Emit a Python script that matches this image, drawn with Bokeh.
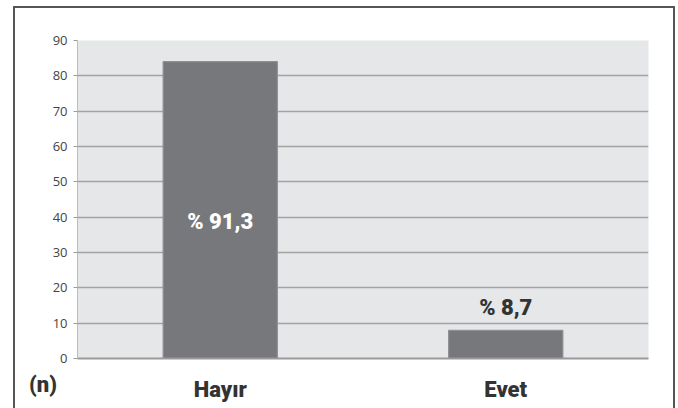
from bokeh.plotting import figure
from bokeh.models import Range1d, FactorRange, ColumnDataSource, FixedTicker, Div
from bokeh.layouts import column
from bokeh.core.properties import value
from bokeh.embed import file_html
from bokeh.resources import INLINE

categories = ["Hayır", "Evet"]
counts = [84, 8]
pct_labels = ["% 91,3", "% 8,7"]
y_ticks = [0, 10, 20, 30, 40, 50, 60, 70, 80, 90]
unit_label = "(n)"

label_y = [counts[0] * 0.46, counts[1] + 6.5]
label_color = ["#ffffff", "#333333"]

COND = "Roboto Black, Roboto, sans-serif"

src = ColumnDataSource(dict(cat=categories, n=counts, lab=pct_labels, ly=label_y, lc=label_color))

p = figure(width=658, height=400, output_backend="svg", toolbar_location=None,
           x_range=FactorRange(*categories, range_padding=0), y_range=Range1d(0, 90),
           min_border_left=62, min_border_top=32, min_border_right=25, min_border_bottom=50)
p.styles = {"margin-left": "15px", "margin-top": "8px", "outline": "2px solid #555555"}
p.background_fill_color = "#e6e7e8"
p.border_fill_color = "#ffffff"
p.outline_line_color = None

p.vbar(x="cat", top="n", width=0.4, source=src, fill_color="#77787b",
       line_color="#8e8f92", line_width=1.2)

p.text(x="cat", y="ly", text="lab", source=src, text_color="lc",
       text_font=value(COND), text_font_style="bold",
       text_font_size="22px", text_align="center", text_baseline="middle")

p.xgrid.grid_line_color = None
p.ygrid.grid_line_color = "#a3a3a3"
p.ygrid.grid_line_width = 1.3
p.ygrid.ticker = FixedTicker(ticks=y_ticks)

p.yaxis.ticker = FixedTicker(ticks=y_ticks)
p.yaxis.axis_line_color = "#bdbdbd"
p.yaxis.major_tick_line_color = "#9a9a9a"
p.yaxis.major_tick_out = 4
p.yaxis.major_tick_in = 0
p.yaxis.minor_tick_line_color = None
p.yaxis.major_label_text_font = "Open Sans"
p.yaxis.major_label_text_font_size = "13px"
p.yaxis.major_label_text_color = "#444444"
p.yaxis.major_label_standoff = 6

p.xaxis.axis_line_color = "#9a9a9a"
p.xaxis.axis_line_width = 2
p.xaxis.major_tick_line_color = None
p.xaxis.major_label_text_font = COND
p.xaxis.major_label_text_font_style = "bold"
p.xaxis.major_label_text_font_size = "22px"
p.xaxis.major_label_text_color = "#333333"
p.xaxis.major_label_standoff = 12

note = Div(text=unit_label, width=40, height=30,
           styles={"margin-top": "-38px", "margin-left": "29px",
                   "font-family": COND, "font-weight": "bold",
                   "font-size": "22px", "color": "#333333", "line-height": "30px"})

layout = column(p, note, spacing=0)

open("out.html", "w").write(file_html(layout, INLINE))
